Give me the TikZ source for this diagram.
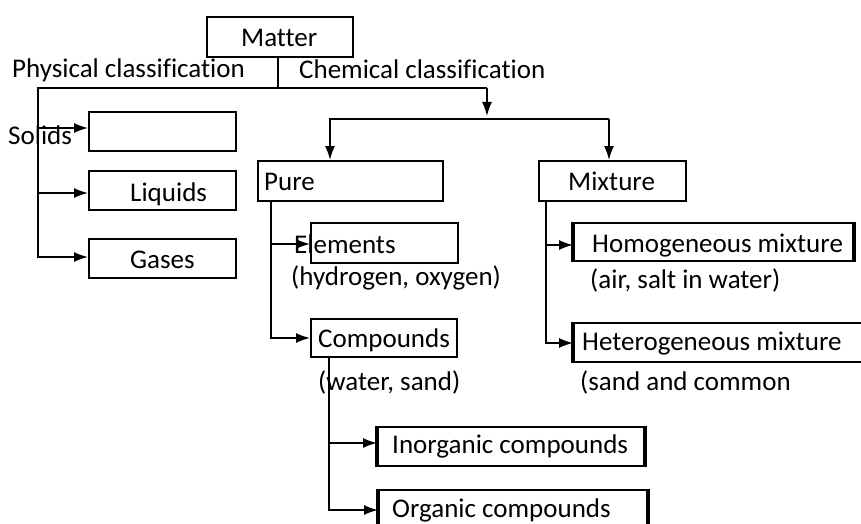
\documentclass[tikz,border=0pt]{standalone}
\usepackage{fontspec}
\setmainfont{Carlito}[Ligatures=NoCommon]
\usetikzlibrary{arrows.meta}

\tikzset{
  box/.style={draw, line width=2pt, inner sep=0pt, anchor=north west},
  lbl/.style={anchor=base west, inner sep=0pt, font=\fontsize{27}{32}\selectfont},
  conn/.style={line width=1.6pt},
  arr/.style={conn, -{Latex[length=14pt,width=10pt]}},
  side/.style={line width=3.5pt}
}

\begin{document}
\begin{tikzpicture}[x=1pt, y=-1pt]
  \useasboundingbox (0,0) rectangle (861,524);

  % Top
  \node[box, minimum width=146pt, minimum height=40pt] (matter) at (206,16) {};
  \node[lbl] (mattert) at (241,47) {Matter};
  \node[lbl] (phys) at (12,78) {Physical classification};
  \node[lbl] (chem) at (299,79) {Chemical classification};

  \coordinate (split) at (278,88);
  \coordinate (leftend) at (37,88);
  \coordinate (chemturn) at (487,88);
  \coordinate (chemend) at (487,116);
  \draw[line width=1.2pt] (matter.south -| split) -- (split);
  \draw[conn] (leftend) -- (chemturn);
  \draw[arr] (chemturn) -- (chemend);

  % Physical classification
  \node[box, minimum width=147pt, minimum height=39pt] (solid) at (88,111) {};
  \node[box, minimum width=147pt, minimum height=39pt] (liquid) at (88,170) {};
  \node[box, minimum width=147pt, minimum height=39pt] (gas) at (88,238) {};
  \node[lbl] (solidt) at (8,144) {Solids};
  \node[lbl] (liquidt) at (130,201) {Liquids};
  \node[lbl] (gast) at (130,268) {Gases};

  \coordinate (physdown) at (38,88);
  \draw[arr] (physdown |- 0,128) -- (solid.west |- 0,128);
  \draw[arr] (physdown |- 0,193) -- (liquid.west |- 0,193);
  \draw[arr] (physdown) |- (gas.west |- 0,257);

  % Chemical classification
  \coordinate (barl) at (330,119);
  \coordinate (barr) at (609,119);
  \node[box, minimum width=185pt, minimum height=40pt] (pure) at (257,160) {};
  \node[box, minimum width=147pt, minimum height=40pt] (mix) at (538,160) {};
  \node[lbl] (puret) at (264,190) {Pure};
  \node[lbl] (mixt) at (568,190) {Mixture};
  \draw[arr] (barr) -- (barl) -- (barl |- pure.north);
  \draw[arr] (barr) -- (barr |- mix.north);

  % Pure
  \node[box, minimum width=147pt, minimum height=40pt] (elem) at (310,222) {};
  \node[box, minimum width=146pt, minimum height=38pt] (comp) at (310,318) {};
  \node[lbl] (elemt) at (294,253) {Elements};
  \node[lbl] (elemex) at (291,285) {(hydrogen, oxygen)};
  \node[lbl] (compt) at (318,347) {Compounds};
  \node[lbl] (compex) at (318,390) {(water, sand)};

  \coordinate (puredown) at (271,200);
  \draw[arr] (puredown |- 0,244) -- (elem.west |- 0,244);
  \draw[arr] (puredown) |- (comp.west |- 0,338);

  % Compounds
  \node[box, minimum width=266pt, minimum height=39pt] (inorg) at (377,426) {};
  \node[box, minimum width=268pt, minimum height=40pt] (org) at (378,489) {};
  \node[lbl] (inorgt) at (392,453) {Inorganic compounds};
  \node[lbl] (orgt) at (392,517) {Organic compounds};
  \draw[side] (inorg.north west) -- (inorg.south west);
  \draw[side] (inorg.north east) -- (inorg.south east);
  \draw[side] (org.north west) -- (org.south west);
  \draw[side] (org.north east) -- (org.south east);

  \coordinate (compdown) at (329,356);
  \draw[arr] (compdown |- 0,443) -- (inorg.west |- 0,443);
  \draw[arr] (compdown) |- (org.west |- 0,510);

  % Mixture
  \node[box, minimum width=279pt, minimum height=38pt] (homo) at (573,222) {};
  \node[box, minimum width=300pt, minimum height=39pt] (hetero) at (573,322) {};
  \node[lbl] (homot) at (592,252) {Homogeneous mixture};
  \node[lbl] (homoex) at (590,288) {(air, salt in water)};
  \node[lbl] (heterot) at (582,350) {Heterogeneous mixture};
  \node[lbl] (heteroex) at (580,390) {(sand and common};
  \draw[side] (homo.north west) -- (homo.south west);
  \draw[side] (homo.north east) -- (homo.south east);
  \draw[side] (hetero.north west) -- (hetero.south west);

  \coordinate (mixdown) at (546,200);
  \draw[arr] (mixdown |- 0,245) -- (homo.west |- 0,245);
  \draw[arr] (mixdown) |- (hetero.west |- 0,343);
\end{tikzpicture}
\end{document}
